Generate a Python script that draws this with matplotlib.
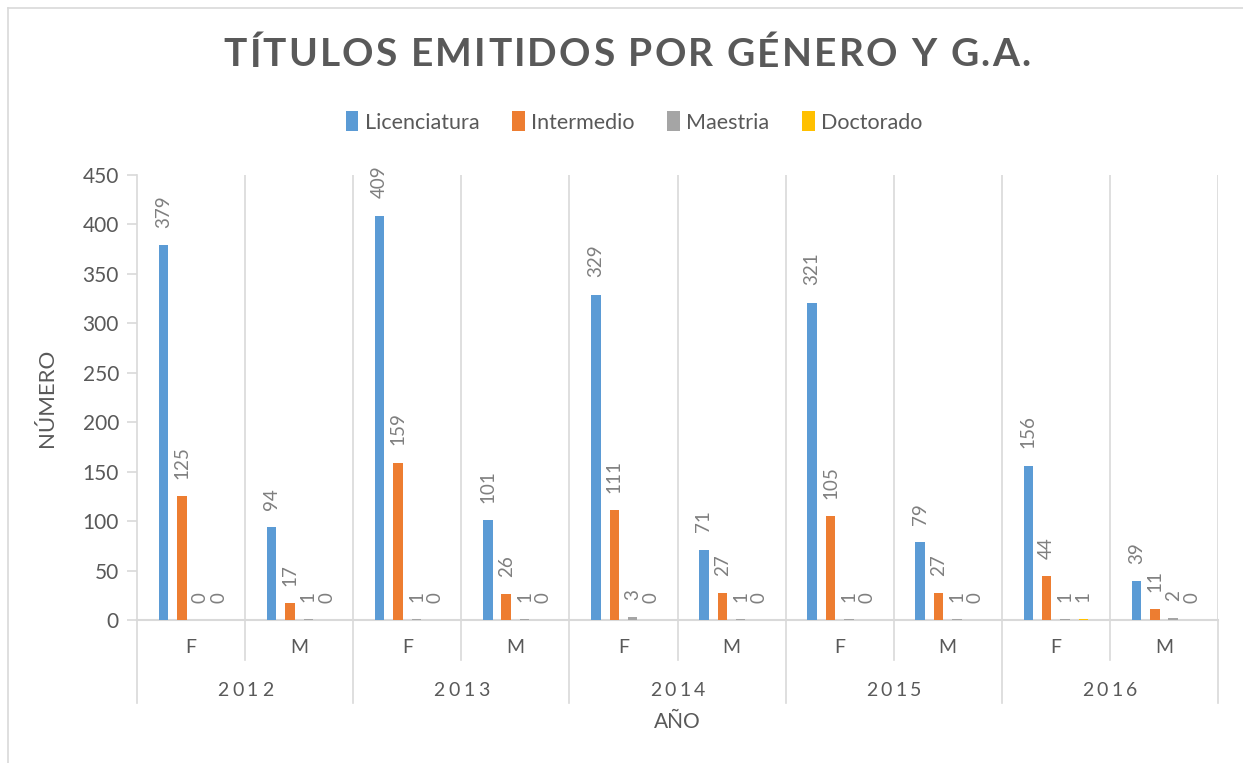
import matplotlib
matplotlib.use("Agg")
import matplotlib.pyplot as plt
from matplotlib.patches import Patch
from matplotlib.lines import Line2D
from matplotlib.font_manager import FontProperties
import numpy as np

plt.rcParams['font.family'] = ['Lato', 'DejaVu Sans']

years = ["2012", "2013", "2014", "2015", "2016"]
genders = ["F", "M"]
series = ["Licenciatura", "Intermedio", "Maestria", "Doctorado"]
licenciatura = [379, 94, 409, 101, 329, 71, 321, 79, 156, 39]
intermedio = [125, 17, 159, 26, 111, 27, 105, 27, 44, 11]
maestria = [0, 1, 1, 1, 3, 1, 1, 1, 1, 2]
doctorado = [0, 0, 0, 0, 0, 0, 0, 0, 1, 0]
colors = ["#5B9BD5", "#ED7D31", "#A5A5A5", "#FFC000"]

GRID = "#D9D9D9"
TXT = "#595959"
LBL = "#7F7F7F"

W, H = 1243, 763
fig = plt.figure(figsize=(W / 100, H / 100), dpi=100)
ax = fig.add_axes([137 / W, 1 - 620 / H, (1218 - 137) / W, (620 - 175) / H])

values = [licenciatura, intermedio, maestria, doctorado]
n = len(licenciatura)
x = np.arange(n)
bw = 0.088
step = 0.17
for i, (vals, c) in enumerate(zip(values, colors)):
    xs = x + (i - 1.5) * step
    ax.bar(xs, vals, width=bw, color=c, zorder=3)
    for xi, v in zip(xs, vals):
        ax.annotate(str(v), (xi, v), xytext=(0, 12.5), textcoords="offset points",
                    rotation=90, ha="center", va="bottom", color=LBL, fontsize=13.5)

ax.set_xlim(-0.5, n - 0.5)
ax.set_ylim(0, 450)
ax.set_yticks(range(0, 451, 50))
ax.tick_params(axis="y", length=7, width=1.2, color=GRID, labelsize=15,
               labelcolor=TXT, pad=6)
ax.set_xticks([])
for s in ["top", "right"]:
    ax.spines[s].set_visible(False)
ax.spines["left"].set_color(GRID)
ax.spines["left"].set_linewidth(1.2)
ax.spines["bottom"].set_color(GRID)
ax.spines["bottom"].set_linewidth(1.5)
for b in np.arange(0.5, n, 1.0):
    ax.axvline(b, color=GRID, lw=1.2, zorder=1)

# category axis labels (two levels)
tr = ax.get_xaxis_transform()
for i in range(n):
    ax.text(i, -0.061, genders[i % 2], transform=tr, ha="center", va="center",
            fontsize=14, color=TXT)
for j in range(n + 1):
    b = j - 0.5
    low = -0.187 if j % 2 == 0 else -0.09
    ax.add_line(Line2D([b, b], [0, low], transform=tr, color=GRID, lw=1.2,
                       clip_on=False))

ax.set_ylabel("NÚMERO", fontsize=16, color=TXT)
ax.yaxis.set_label_coords(-80 / 1081, 0.5)
ax.text(0.5, -0.229, "AÑO", transform=ax.transAxes, ha="center", va="center",
        fontsize=15, color=TXT)

fig.canvas.draw()
renderer = fig.canvas.get_renderer()


def spaced_text(xc, yc, s, track, **kw):
    fp = FontProperties(family=kw.pop("family", "Lato"), size=kw.get("fontsize"),
                        weight=kw.get("fontweight", "normal"))
    widths = [renderer.get_text_width_height_descent(ch, fp, ismath=False)[0]
              for ch in s]
    total = sum(widths) + track * (len(s) - 1)
    xpos = xc - total / 2
    for ch, w in zip(s, widths):
        fig.text(xpos / W, 1 - yc / H, ch, ha="left", va="center", **kw)
        xpos += w + track


for k, yr in enumerate(years):
    xc = 137 + (2 * k + 1) * (1081 / 10)
    spaced_text(xc, 690, yr, 3.5, fontsize=14, color=TXT)

spaced_text(627, 55, "TÍTULOS EMITIDOS POR GÉNERO Y G.A.", 2.2,
            fontsize=28, fontweight="bold", color=TXT)

handles = [Patch(facecolor=c, label=s) for c, s in zip(colors, series)]
fig.legend(handles=handles, loc="center", bbox_to_anchor=(634 / W, 1 - 122 / H),
           ncol=4, frameon=False, fontsize=15.5, handlelength=0.6, handleheight=1.0,
           handletextpad=0.3, columnspacing=1.5, labelcolor=TXT)

# chart border
fig.add_artist(Line2D([8 / W, 8 / W], [0, 1 - 8 / H], color=GRID, lw=1.2))
fig.add_artist(Line2D([8 / W, 1], [1 - 8 / H, 1 - 8 / H], color=GRID, lw=1.2))

fig.savefig("out.png", dpi=100)
